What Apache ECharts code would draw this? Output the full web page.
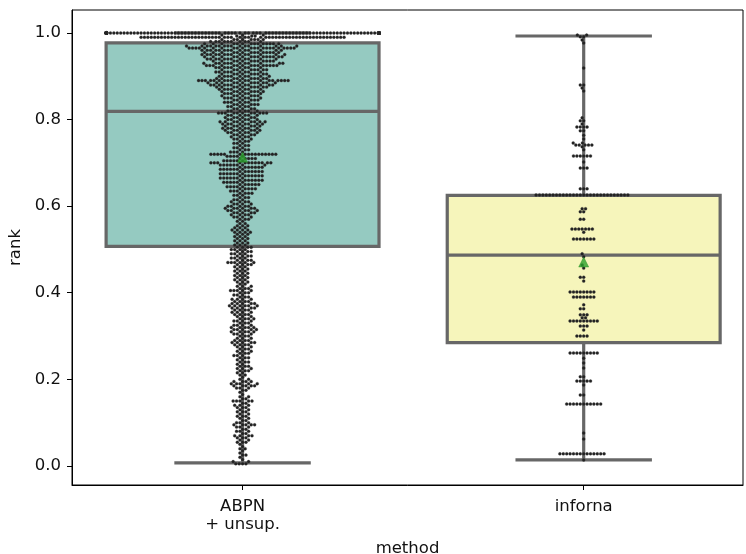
<!DOCTYPE html>
<html><head><meta charset="utf-8">
<script src="https://cdn.jsdelivr.net/npm/echarts@6/dist/echarts.min.js"></script>
<style>html,body{margin:0;padding:0;background:#fff}#c{width:746px;height:554px}</style>
</head><body><div id="c"></div>
<script>
// ---------------- data ----------------
const categories = ['ABPN\n+ unsup.', 'inforna'];
const yTicks = [0.0, 0.2, 0.4, 0.6, 0.8, 1.0];
const boxMin = [0.007, 0.014];
const boxQ1 = [0.507, 0.285];
const boxMedian = [0.819, 0.487];
const boxQ3 = [0.977, 0.625];
const boxMax = [1.000, 0.993];
const means = [0.713, 0.471];

const abpnRank = [1.000, 0.995, 0.993, 0.990, 0.985, 0.980, 0.975, 0.970, 0.965, 0.960,
  0.955, 0.950, 0.945, 0.940, 0.935, 0.930, 0.925, 0.920, 0.915, 0.910,
  0.905, 0.900, 0.895, 0.890, 0.885, 0.880, 0.875, 0.870, 0.865, 0.860,
  0.855, 0.850, 0.845, 0.840, 0.835, 0.830, 0.825, 0.820, 0.815, 0.810,
  0.805, 0.800, 0.795, 0.790, 0.785, 0.780, 0.775, 0.770, 0.765, 0.760,
  0.755, 0.750, 0.745, 0.740, 0.735, 0.730, 0.725, 0.720, 0.715, 0.710,
  0.705, 0.700, 0.695, 0.690, 0.685, 0.680, 0.675, 0.670, 0.665, 0.660,
  0.655, 0.650, 0.645, 0.640, 0.635, 0.630, 0.625, 0.620, 0.615, 0.610,
  0.605, 0.600, 0.595, 0.590, 0.585, 0.580, 0.575, 0.570, 0.565, 0.560,
  0.555, 0.550, 0.545, 0.540, 0.535, 0.530, 0.525, 0.520, 0.515, 0.510,
  0.505, 0.500, 0.495, 0.490, 0.485, 0.480, 0.475, 0.470, 0.465, 0.460,
  0.455, 0.450, 0.445, 0.440, 0.435, 0.430, 0.425, 0.420, 0.415, 0.410,
  0.405, 0.400, 0.395, 0.390, 0.385, 0.380, 0.375, 0.370, 0.365, 0.360,
  0.355, 0.350, 0.345, 0.340, 0.335, 0.330, 0.325, 0.320, 0.315, 0.310,
  0.305, 0.300, 0.295, 0.290, 0.285, 0.280, 0.275, 0.270, 0.265, 0.260,
  0.255, 0.250, 0.245, 0.240, 0.235, 0.230, 0.225, 0.220, 0.215, 0.210,
  0.205, 0.200, 0.195, 0.190, 0.185, 0.180, 0.175, 0.170, 0.165, 0.160,
  0.155, 0.150, 0.145, 0.140, 0.135, 0.130, 0.125, 0.120, 0.115, 0.110,
  0.105, 0.100, 0.095, 0.090, 0.085, 0.080, 0.075, 0.070, 0.065, 0.060,
  0.055, 0.050, 0.045, 0.040, 0.035, 0.030, 0.025, 0.020, 0.015, 0.010,
  0.005];
const abpnCount = [140, 3, 3, 55, 8, 10, 14, 16, 22, 14,
  14, 14, 15, 12, 12, 12, 15, 9, 9, 9,
  9, 9, 10, 19, 12, 12, 10, 8, 8, 7,
  7, 7, 6, 6, 6, 5, 5, 6, 11, 6,
  6, 6, 9, 8, 7, 7, 7, 6, 5, 4,
  4, 3, 3, 3, 3, 3, 4, 16, 5, 5,
  6, 12, 8, 7, 7, 7, 7, 7, 7, 7,
  6, 6, 5, 5, 4, 4, 3, 3, 3, 4,
  4, 5, 6, 6, 5, 4, 4, 3, 2, 2,
  3, 3, 4, 4, 3, 3, 3, 3, 3, 3,
  4, 4, 4, 4, 4, 4, 4, 6, 4, 3,
  3, 3, 3, 3, 3, 3, 3, 2, 3, 3,
  5, 3, 3, 3, 4, 4, 5, 6, 5, 4,
  4, 4, 3, 4, 4, 3, 4, 5, 5, 5,
  4, 3, 3, 4, 5, 4, 3, 3, 3, 3,
  3, 3, 2, 3, 2, 3, 3, 3, 2, 2,
  1, 2, 4, 5, 5, 3, 2, 1, 1, 2,
  2, 5, 2, 3, 3, 2, 3, 2, 3, 2,
  2, 3, 5, 3, 2, 3, 2, 4, 3, 2,
  3, 1, 1, 2, 1, 1, 2, 1, 1, 2,
  4];

const infornaRank = [0.995, 0.991, 0.984, 0.977, 0.919, 0.880, 0.873, 0.866, 0.804, 0.797,
  0.790, 0.783, 0.774, 0.764, 0.755, 0.746, 0.741, 0.737, 0.730, 0.716,
  0.702, 0.688, 0.640, 0.626, 0.594, 0.587, 0.570, 0.547, 0.540, 0.524,
  0.490, 0.483, 0.464, 0.457, 0.436, 0.427, 0.402, 0.390, 0.372, 0.363,
  0.349, 0.342, 0.335, 0.323, 0.314, 0.300, 0.261, 0.249, 0.238, 0.226,
  0.206, 0.196, 0.187, 0.164, 0.143, 0.076, 0.062, 0.028, 0.014];
const infornaCount = [2, 2, 1, 1, 1, 2, 1, 1, 1, 2,
  1, 4, 2, 1, 1, 2, 5, 1, 1, 6,
  1, 3, 3, 28, 2, 2, 2, 7, 1, 7,
  1, 1, 1, 1, 2, 1, 8, 7, 1, 2,
  3, 2, 9, 3, 1, 4, 9, 1, 1, 1,
  2, 5, 1, 2, 11, 1, 1, 14, 1];

// ---------------- helpers ----------------
const swarmRanks = [abpnRank, infornaRank];
const swarmCounts = [abpnCount, infornaCount];
function expand(rank, count) {
  const out = [];
  rank.forEach((v, i) => { for (let k = 0; k < count[i]; k++) out.push(v); });
  return out.sort((a, b) => a - b);
}
function beeswarm(cx, ys, d, halfW) {
  const placed = [];
  for (const y of ys) {
    const nb = [];
    for (const p of placed) if (Math.abs(p.y - y) < d) nb.push(p);
    const cands = [cx];
    for (const p of nb) {
      const dx = Math.sqrt(d * d - (p.y - y) * (p.y - y));
      cands.push(p.x - dx, p.x + dx);
    }
    cands.sort((a, b) => Math.abs(a - cx) - Math.abs(b - cx));
    let chosen = cands[cands.length - 1];
    for (const c of cands) {
      let ok = true;
      for (const p of nb) {
        const dx = c - p.x, dy = y - p.y;
        if (dx * dx + dy * dy < d * d - 1e-6) { ok = false; break; }
      }
      if (ok) { chosen = c; break; }
    }
    placed.push({ x: chosen, y: y });
  }
  return placed.map(p => ({ x: Math.max(cx - halfW, Math.min(cx + halfW, p.x)), y: p.y }));
}

const FONT = 'DejaVu Sans';
const FS = 16.5;
const TXT = '#111';
const boxFill = ['#95cac1', '#f6f5bb'];
const edge = '#676767';

const chart = echarts.init(document.getElementById('c'), null, { renderer: 'canvas' });
chart.setOption({
  animation: false,
  backgroundColor: '#fff',
  grid: { left: 72, top: 10, right: 3, bottom: 69, containLabel: false, outerBoundsMode: 'none',
    show: true, borderColor: '#000', borderWidth: 1, backgroundColor: 'transparent' },
  xAxis: {
    type: 'value', min: -0.5, max: 1.467,
    name: 'method', nameLocation: 'middle', nameGap: 55,
    nameTextStyle: { fontFamily: FONT, fontSize: FS, color: TXT },
    axisLine: { show: true, onZero: false, lineStyle: { color: '#000', width: 1 } },
    splitLine: { show: false },
    axisTick: { show: true, length: 5, lineStyle: { color: '#000', width: 1 }, customValues: [0, 1] },
    axisLabel: { fontFamily: FONT, fontSize: FS, color: TXT, margin: 13, lineHeight: 18,
      customValues: [0, 1], formatter: v => categories[Math.round(v)] }
  },
  yAxis: {
    type: 'value', min: -0.044, max: 1.053,
    name: 'rank', nameLocation: 'middle', nameGap: 43, nameRotate: 90,
    nameTextStyle: { fontFamily: FONT, fontSize: FS, color: TXT },
    axisLine: { show: true, onZero: false, lineStyle: { color: '#000', width: 1 } },
    splitLine: { show: false },
    axisTick: { show: true, length: 5, lineStyle: { color: '#000', width: 1 }, customValues: yTicks },
    axisLabel: { fontFamily: FONT, fontSize: FS, color: TXT, margin: 11,
      customValues: yTicks, formatter: v => v.toFixed(1) }
  },
  series: [
    {
      type: 'custom', z: 2, clip: false,
      data: categories.map((c, i) => [i, boxMin[i], boxQ1[i], boxMedian[i], boxQ3[i], boxMax[i]]),
      encode: { x: 0, y: [1, 2, 3, 4, 5] },
      renderItem: (params, api) => {
        const i = api.value(0);
        const lo = api.coord([i, api.value(1)]);
        const q1 = api.coord([i, api.value(2)]);
        const md = api.coord([i, api.value(3)]);
        const q3 = api.coord([i, api.value(4)]);
        const hi = api.coord([i, api.value(5)]);
        const xl = api.coord([i - 0.4, 0])[0], xr = api.coord([i + 0.4, 0])[0];
        const cl = api.coord([i - 0.2, 0])[0], cr = api.coord([i + 0.2, 0])[0];
        const ls = { stroke: edge, lineWidth: 3.2 };
        return { type: 'group', children: [
          { type: 'line', shape: { x1: lo[0], y1: lo[1], x2: q1[0], y2: q1[1] }, style: ls },
          { type: 'line', shape: { x1: q3[0], y1: q3[1], x2: hi[0], y2: hi[1] }, style: ls },
          { type: 'line', shape: { x1: cl, y1: lo[1], x2: cr, y2: lo[1] }, style: ls },
          { type: 'line', shape: { x1: cl, y1: hi[1], x2: cr, y2: hi[1] }, style: ls },
          { type: 'rect', shape: { x: xl, y: q3[1], width: xr - xl, height: q1[1] - q3[1] },
            style: { fill: boxFill[i], stroke: edge, lineWidth: 3.2 } },
          { type: 'line', shape: { x1: xl, y1: md[1], x2: xr, y2: md[1] }, style: ls }
        ] };
      }
    },
    {
      type: 'custom', z: 3, clip: false,
      data: categories.map((c, i) => [i, 0]),
      encode: { x: 0, y: 1 },
      renderItem: (params, api) => {
        const i = params.dataIndex;
        const vals = expand(swarmRanks[i], swarmCounts[i]);
        const cx = api.coord([i, 0])[0];
        const halfW = Math.abs(api.coord([i + 0.4, 0])[0] - cx);
        const ys = vals.map(v => api.coord([i, v])[1]);
        const pts = beeswarm(cx, ys, 3.4, halfW);
        return { type: 'group', children: pts.map(p => ({
          type: 'circle', shape: { cx: p.x, cy: p.y, r: 1.5 },
          style: { fill: '#222', stroke: '#333', lineWidth: 0.3 }
        })) };
      }
    },
    {
      type: 'scatter', z: 4, symbol: 'triangle', symbolSize: 10,
      itemStyle: { color: '#2ca02c', borderColor: '#1f8f1f', borderWidth: 0.5 },
      data: means.map((m, i) => [i, m])
    }
  ]
});
</script></body></html>
